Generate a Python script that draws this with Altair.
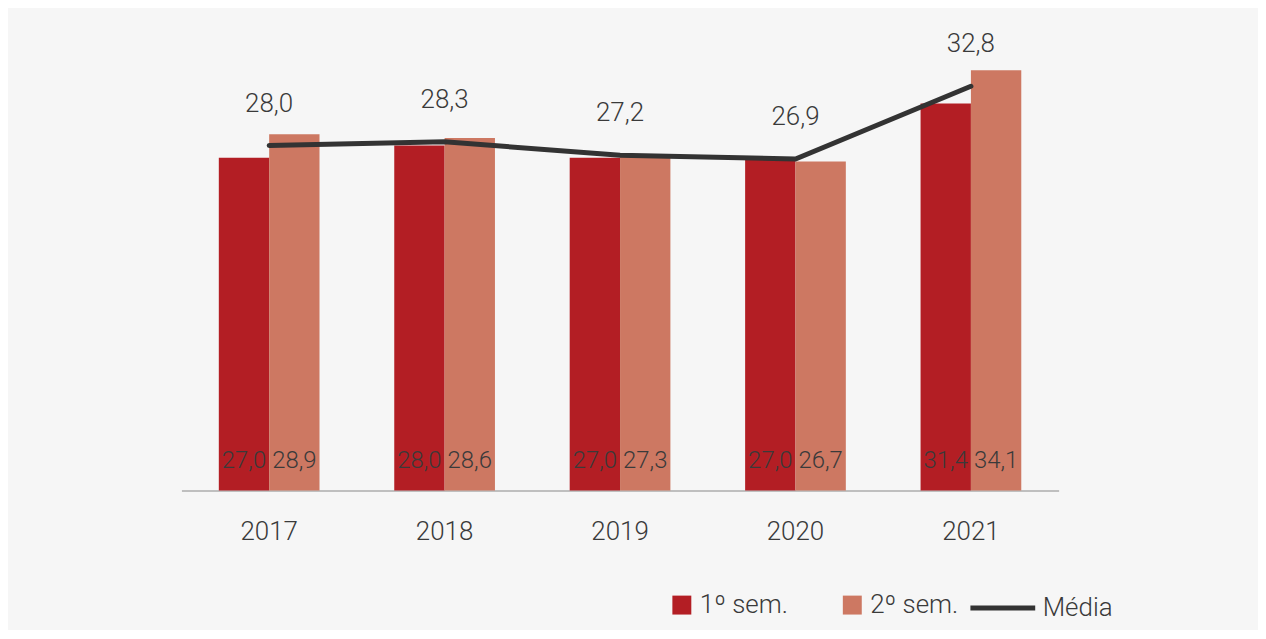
import altair as alt
import pandas as pd

years = ["2017", "2018", "2019", "2020", "2021"]
sem1 = [27.0, 28.0, 27.0, 27.0, 31.4]
sem2 = [28.9, 28.6, 27.3, 26.7, 34.1]
media = [28.0, 28.3, 27.2, 26.9, 32.8]
series = ["1º sem.", "2º sem."]
bar_colors = ["#b31e24", "#cd7862"]
line_color = "#333333"

FONT = "Roboto"
FW = 300
TXT = "#3a3a3a"
FS = 26
FS_BAR = 24


def fmt(v):
    return f"{v:.1f}".replace(".", ",")


rows = []
for y, a, b in zip(years, sem1, sem2):
    rows.append({"year": y, "serie": series[0], "value": a, "label": fmt(a)})
    rows.append({"year": y, "serie": series[1], "value": b, "label": fmt(b)})
bars_df = pd.DataFrame(rows)
line_df = pd.DataFrame({"year": years, "value": media, "label": [fmt(v) for v in media], "serie": ["Média"] * 5})

xenc = alt.X(
    "year:N",
    sort=years,
    title=None,
    scale=alt.Scale(paddingInner=0.426, paddingOuter=0.213),
    axis=alt.Axis(
        labelAngle=0,
        ticks=False,
        grid=False,
        domainColor="#bfbfbf",
        domainWidth=2,
        labelPadding=28,
        labelFont=FONT,
        labelFontWeight=FW,
        labelFontSize=FS,
        labelColor=TXT,
    ),
)
yscale = alt.Scale(domain=[0, 36], nice=False)

bars = alt.Chart(bars_df).mark_bar().encode(
    x=xenc,
    xOffset=alt.XOffset("serie:N", sort=series, scale=alt.Scale(paddingInner=0, paddingOuter=0)),
    y=alt.Y("value:Q", scale=yscale, axis=None),
    color=alt.Color(
        "serie:N",
        scale=alt.Scale(domain=series, range=bar_colors),
        legend=alt.Legend(
            title=None,
            orient="none",
            direction="horizontal",
            legendX=489,
            legendY=547,
            symbolType="square",
            symbolSize=361,
            symbolStrokeWidth=0,
            symbolOpacity=1,
            labelFont=FONT,
            labelFontWeight=FW,
            labelFontSize=FS,
            labelColor=TXT,
            labelOffset=5,
            columnPadding=51,
        ),
    ),
)

bar_labels = alt.Chart(bars_df).mark_text(
    font=FONT, fontWeight=FW, fontSize=FS_BAR, color=TXT, baseline="middle", dy=-30
).encode(
    x=alt.X("year:N", sort=years),
    xOffset=alt.XOffset("serie:N", sort=series),
    y=alt.datum(0),
    text="label:N",
)

line = alt.Chart(line_df).mark_line(strokeWidth=5, strokeCap="round").encode(
    x=alt.X("year:N", sort=years),
    y=alt.Y("value:Q", scale=yscale),
    stroke=alt.Stroke(
        "serie:N",
        scale=alt.Scale(domain=["Média"], range=[line_color]),
        legend=alt.Legend(
            title=None,
            orient="none",
            legendX=789,
            legendY=528,
            symbolType="stroke",
            symbolSize=4225,
            symbolStrokeWidth=5,
            labelFont=FONT,
            labelFontWeight=FW,
            labelFontSize=FS,
            labelColor=TXT,
            labelOffset=5,
        ),
    ),
)

line_labels = alt.Chart(line_df).mark_text(
    font=FONT, fontWeight=FW, fontSize=FS, color=TXT, baseline="middle", dy=-42
).encode(
    x=alt.X("year:N", sort=years),
    y=alt.Y("value:Q", scale=yscale),
    text="label:N",
)

chart = (
    alt.layer(bars, bar_labels, line, line_labels)
    .resolve_scale(x="shared")
    .properties(
        width=880,
        height=445,
        padding={"left": 174, "top": 38, "right": 200, "bottom": 139},
        autosize=alt.AutoSizeParams(type="none"),
        background="#f6f6f6",
    )
    .configure_view(stroke=None)
)

chart.save("out.html", embed_options={"renderer": "svg", "actions": False})
